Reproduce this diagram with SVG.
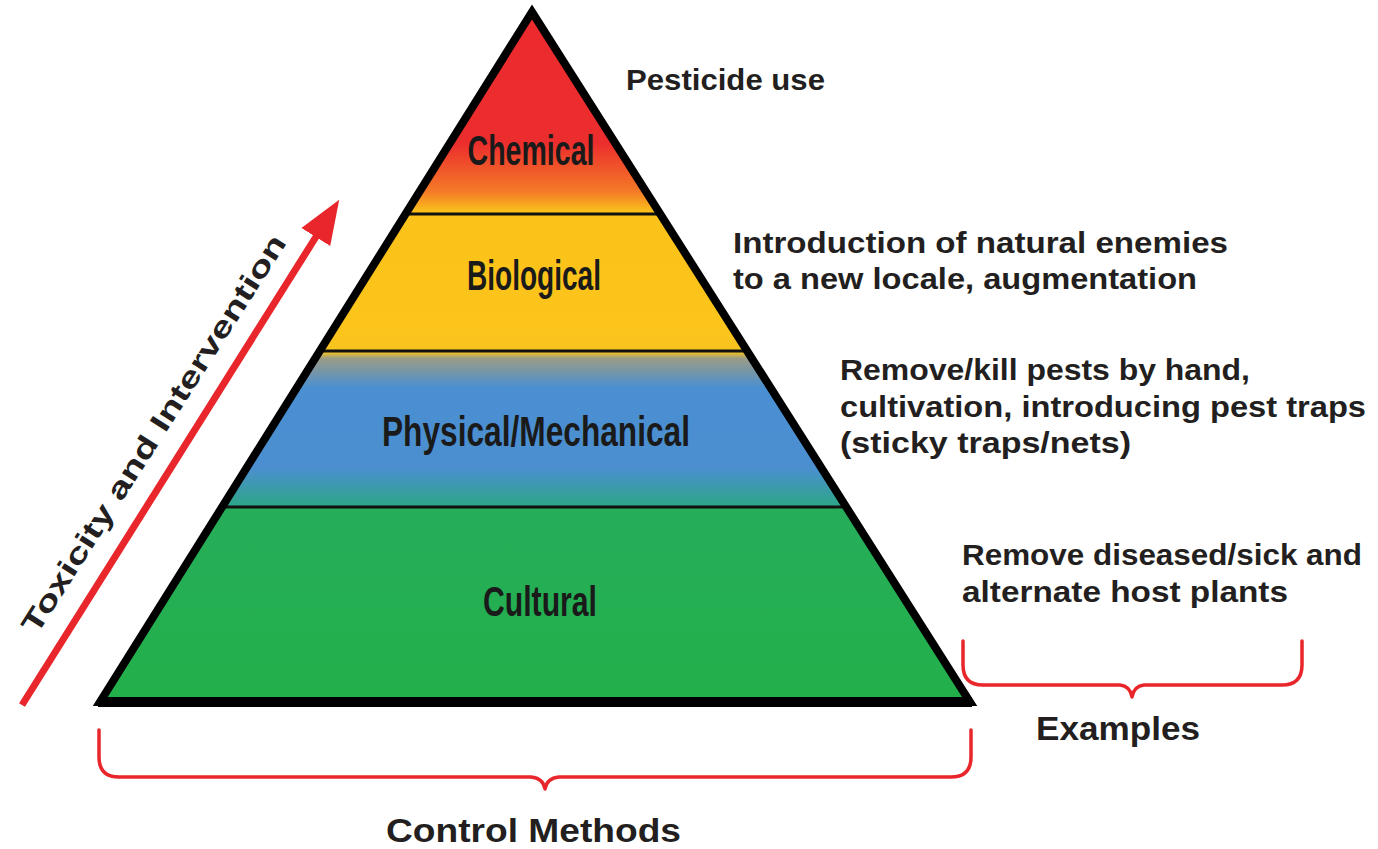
<svg xmlns="http://www.w3.org/2000/svg" width="1378" height="849" viewBox="0 0 1378 849">
  <defs>
    <linearGradient id="pyr" gradientUnits="userSpaceOnUse" x1="0" y1="12" x2="0" y2="702">
      <stop offset="0" stop-color="#ec2a2e"/>
      <stop offset="0.19" stop-color="#ec2d2d"/>
      <stop offset="0.26" stop-color="#f47a27"/>
      <stop offset="0.29" stop-color="#fbc21a"/>
      <stop offset="0.46" stop-color="#fcc51b"/>
      <stop offset="0.493" stop-color="#f6c320"/>
      <stop offset="0.502" stop-color="#9a9c86"/>
      <stop offset="0.545" stop-color="#4a8fd2"/>
      <stop offset="0.66" stop-color="#4b8fd0"/>
      <stop offset="0.715" stop-color="#2ea58a"/>
      <stop offset="0.72" stop-color="#27ad5a"/>
      <stop offset="1" stop-color="#22b04a"/>
    </linearGradient>
    <marker id="arrowhead" markerUnits="userSpaceOnUse" markerWidth="44" markerHeight="40" refX="6" refY="20" orient="auto">
      <path d="M0,3 L44,20 L0,37 Z" fill="#e8262b"/>
    </marker>
  </defs>
  <style>
    .band { fill: url(#pyr); stroke: none; }
    .lbl { font-family: "Liberation Sans Narrow", "Liberation Sans", sans-serif; font-weight: bold; font-size: 42px; fill: #1a1a1a; text-anchor: middle; }
    .ex { font-family: "Liberation Sans", "DejaVu Sans", sans-serif; font-weight: bold; font-size: 29px; fill: #231f20; }
    .big { font-size: 33px; }
    .divider { stroke: #111; stroke-width: 3; fill: none; }
    .outline { stroke: #000; stroke-width: 8; fill: none; stroke-linejoin: miter; }
    .brace { stroke: #e8262b; stroke-width: 3.5; fill: none; stroke-linecap: round; stroke-linejoin: round; }
  </style>
  <rect width="1378" height="849" fill="#ffffff"/>

  <g id="chemical">
    <polygon class="band" points="532,12 660.2,214 405.5,214"/>
    <text class="lbl" x="531" y="165" textLength="127" lengthAdjust="spacingAndGlyphs">Chemical</text>
  </g>
  <g id="biological">
    <polygon class="band" points="405.5,214 660.2,214 747.2,351 319.8,351"/>
    <text class="lbl" x="534" y="290" textLength="134" lengthAdjust="spacingAndGlyphs">Biological</text>
  </g>
  <g id="physical-mechanical">
    <polygon class="band" points="319.8,351 747.2,351 846.2,507 222.1,507"/>
    <text class="lbl" x="536" y="446" textLength="308" lengthAdjust="spacingAndGlyphs">Physical/Mechanical</text>
  </g>
  <g id="cultural">
    <polygon class="band" points="222.1,507 846.2,507 970,702 100,702"/>
    <text class="lbl" x="540" y="616" textLength="114" lengthAdjust="spacingAndGlyphs">Cultural</text>
  </g>

  <g id="pyramid-frame">
    <line class="divider" x1="405.5" y1="214" x2="660.2" y2="214"/>
    <line class="divider" x1="319.8" y1="351" x2="747.2" y2="351"/>
    <line class="divider" x1="222.1" y1="507" x2="846.2" y2="507"/>
    <polygon class="outline" points="532,12 970,702 100,702"/>
    <line x1="98" y1="702" x2="972" y2="702" stroke="#000" stroke-width="10"/>
  </g>

  <g id="connectors">
    <line x1="22" y1="705" x2="319" y2="232" stroke="#e8262b" stroke-width="7" marker-end="url(#arrowhead)"/>
    <path class="brace" d="M99,730 L99,757 Q99,777 119,777 L531,777 Q543,778 545,789 Q547,778 559,777 L951,777 Q971,777 971,757 L971,730"/>
    <path class="brace" d="M963,641 L963,665 Q963,685 983,685 L1120,685 Q1130,686 1132,697 Q1134,686 1144,685 L1282,685 Q1302,685 1302,665 L1302,641"/>
  </g>

  <g id="axis-label">
    <text class="ex" transform="translate(162,439) rotate(-57.5)" text-anchor="middle" font-size="30" textLength="466" lengthAdjust="spacingAndGlyphs">Toxicity and Intervention</text>
  </g>

  <g id="examples-text">
    <text class="ex" x="626" y="90" textLength="199" lengthAdjust="spacingAndGlyphs">Pesticide use</text>
    <text class="ex" x="733" y="253" textLength="495" lengthAdjust="spacingAndGlyphs">Introduction of natural enemies</text>
    <text class="ex" x="733" y="289" textLength="464" lengthAdjust="spacingAndGlyphs">to a new locale, augmentation</text>
    <text class="ex" x="840" y="380" textLength="410" lengthAdjust="spacingAndGlyphs">Remove/kill pests by hand,</text>
    <text class="ex" x="840" y="417" textLength="526" lengthAdjust="spacingAndGlyphs">cultivation, introducing pest traps</text>
    <text class="ex" x="840" y="453" textLength="291" lengthAdjust="spacingAndGlyphs">(sticky traps/nets)</text>
    <text class="ex" x="962" y="565" textLength="400" lengthAdjust="spacingAndGlyphs">Remove diseased/sick and</text>
    <text class="ex" x="962" y="602" textLength="326" lengthAdjust="spacingAndGlyphs">alternate host plants</text>
  </g>

  <g id="examples-label">
    <text class="ex big" x="1036" y="740" textLength="164" lengthAdjust="spacingAndGlyphs">Examples</text>
  </g>
  <g id="control-methods-label">
    <text class="ex big" x="386" y="842" textLength="295" lengthAdjust="spacingAndGlyphs">Control Methods</text>
  </g>
</svg>
